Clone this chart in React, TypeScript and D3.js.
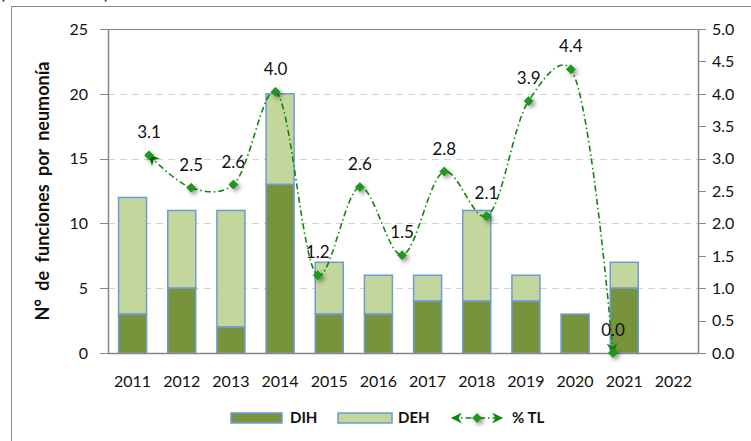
import React from "react";
import * as d3 from "d3";

const years = ["2011", "2012", "2013", "2014", "2015", "2016", "2017", "2018", "2019", "2020", "2021", "2022"];
const dih = [3, 5, 2, 13, 3, 3, 4, 4, 4, 3, 5, 0];
const deh = [9, 6, 9, 7, 4, 3, 2, 7, 2, 0, 2, 0];
const pctTL = [3.05, 2.55, 2.6, 4.03, 1.2, 2.56, 1.51, 2.8, 2.11, 3.89, 4.38, 0.0];
const pctLabels = ["3.1", "2.5", "2.6", "4.0", "1.2", "2.6", "1.5", "2.8", "2.1", "3.9", "4.4", "0.0"];
const leftTicks = [0, 5, 10, 15, 20, 25];
const rightTicks = [0, 0.5, 1, 1.5, 2, 2.5, 3, 3.5, 4, 4.5, 5];
const gridTicks = [5, 10, 15, 20];

const W = 751;
const H = 441;
const L = 108;
const R = 698;
const T = 29;
const B = 353;
const FONT = "Lato, 'Open Sans', sans-serif";
const AXIS = "#868686";
const DARK = "#77933C";
const LIGHT = "#C3D69B";
const EDGE = "#6E9BD6";
const LINE = "#0A8A0A";

export default function App() {
  const x = d3.scaleBand<string>().domain(years).range([L, R]).paddingInner(0.43).paddingOuter(0.215);
  const xl = d3.scalePoint<string>().domain(years).range([L + 41, R - 85]);
  const yL = d3.scaleLinear().domain([0, 25]).range([B, T]);
  const yR = d3.scaleLinear().domain([0, 5]).range([B, T]);

  const line = d3
    .line<number>()
    .x((_, i) => xl(years[i]) as number)
    .y((d) => yR(d))
    .curve(d3.curveCatmullRom.alpha(0.3));
  const linePath = line(pctTL) || "";

  const diamond = (cx: number, cy: number, r: number) =>
    `M${cx},${cy - r}L${cx + r},${cy}L${cx},${cy + r}L${cx - r},${cy}Z`;

  return (
    <svg
      width={W}
      height={H}
      style={{ position: "absolute", left: 0, top: 0, background: "#fff" }}
      fontFamily={FONT}
    >
      <defs>
        <filter id="sh" x="-100%" y="-100%" width="300%" height="300%">
          <feDropShadow dx="2.5" dy="2.5" stdDeviation="2" floodColor="#000" floodOpacity="0.45" />
        </filter>
        <marker
          id="arr"
          viewBox="0 0 10 10"
          refX="9"
          refY="5"
          markerWidth="11"
          markerHeight="11"
          markerUnits="userSpaceOnUse"
          orient="auto-start-reverse"
        >
          <path d="M0,0L10,5L0,10L3,5Z" fill={LINE} />
        </marker>
      </defs>
      <rect width={W} height={H} fill="#fff" />
      {/* cut-off title */}
      <text x={0} y={-1} fontSize={18} fontWeight="bold" fill="#1F4E99" fontFamily={FONT}>
        (2011 - 2021).
      </text>
      {/* chart border */}
      <rect x={11.5} y={6.5} width={W + 20} height={H + 20} fill="none" stroke="#8C8C8C" strokeWidth={1} />

      {/* grid */}
      {gridTicks.map((t) => (
        <line
          key={t}
          x1={L}
          x2={R}
          y1={Math.round(yL(t)) + 0.5}
          y2={Math.round(yL(t)) + 0.5}
          stroke="#D4D4D4"
          strokeWidth={1}
          strokeDasharray="7,5"
        />
      ))}
      <line x1={L} x2={R} y1={T + 0.5} y2={T + 0.5} stroke={AXIS} strokeWidth={1} />

      {/* bars */}
      {years.map((yr, i) => {
        const bx = x(yr) as number;
        const bw = x.bandwidth();
        const total = dih[i] + deh[i];
        if (total === 0) return null;
        return (
          <g key={yr}>
            {deh[i] > 0 && (
              <rect
                x={bx}
                y={yL(total)}
                width={bw}
                height={yL(dih[i]) - yL(total)}
                fill={LIGHT}
                stroke={EDGE}
                strokeWidth={1.5}
              />
            )}
            <rect
              x={bx}
              y={yL(dih[i])}
              width={bw}
              height={yL(0) - yL(dih[i])}
              fill={DARK}
              stroke={EDGE}
              strokeWidth={1.5}
            />
          </g>
        );
      })}

      {/* axes */}
      <line x1={L + 0.5} x2={L + 0.5} y1={T} y2={B} stroke={AXIS} strokeWidth={1.5} />
      <line x1={R + 0.5} x2={R + 0.5} y1={T} y2={B} stroke={AXIS} strokeWidth={1.5} />
      <line x1={L} x2={R} y1={B + 0.5} y2={B + 0.5} stroke={AXIS} strokeWidth={1.5} />
      {leftTicks.map((t) => (
        <g key={t}>
          <line x1={L - 8} x2={L} y1={Math.round(yL(t)) + 0.5} y2={Math.round(yL(t)) + 0.5} stroke={AXIS} />
          <text x={88} y={yL(t)} dy="0.36em" textAnchor="end" fontSize={16} fill="#111">
            {t}
          </text>
        </g>
      ))}
      {rightTicks.map((t) => (
        <g key={t}>
          <line x1={R} x2={R + 8} y1={Math.round(yR(t)) + 0.5} y2={Math.round(yR(t)) + 0.5} stroke={AXIS} />
          <text x={712} y={yR(t)} dy="0.36em" textAnchor="start" fontSize={16} fill="#111">
            {d3.format(".1f")(t)}
          </text>
        </g>
      ))}
      {years.map((yr) => (
        <text
          key={yr}
          x={(x(yr) as number) + x.bandwidth() / 2}
          y={381}
          dy="0.36em"
          textAnchor="middle"
          fontSize={16}
          fill="#111"
        >
          {yr}
        </text>
      ))}
      <text
        transform={`translate(43,${(T + B) / 2}) rotate(-90)`}
        textAnchor="middle"
        dy="0.36em"
        fontSize={18}
        fontWeight="bold"
        fill="#111"
        wordSpacing={4}
      >
        N° de funciones por neumonía
      </text>

      {/* line series */}
      <path
        d={linePath}
        fill="none"
        stroke={LINE}
        strokeWidth={1.6}
        strokeDasharray="6,3,1.5,3"
        markerStart="url(#arr)"
        markerEnd="url(#arr)"
      />
      {pctTL.map((v, i) => (
        <path
          key={i}
          d={diamond(xl(years[i]) as number, yR(v), 4.5)}
          fill="#1E9A1E"
          stroke="#0A7A0A"
          strokeWidth={0.6}
          filter="url(#sh)"
        />
      ))}
      {pctTL.map((v, i) => (
        <text
          key={i}
          x={xl(years[i]) as number}
          y={yR(v) - 23}
          dy="0.36em"
          textAnchor="middle"
          fontSize={17}
          fill="#111"
        >
          {pctLabels[i]}
        </text>
      ))}

      {/* legend */}
      <rect x={231} y={413} width={51} height={10} fill={DARK} stroke={EDGE} strokeWidth={1.5} />
      <text x={290} y={418} dy="0.36em" fontSize={15} fontWeight="bold" fill="#111">
        DIH
      </text>
      <rect x={338} y={413} width={54} height={10} fill={LIGHT} stroke={EDGE} strokeWidth={1.5} />
      <text x={398} y={418} dy="0.36em" fontSize={15} fontWeight="bold" fill="#111">
        DEH
      </text>
      <path
        d={`M${452},418L${502},418`}
        fill="none"
        stroke={LINE}
        strokeWidth={1.6}
        strokeDasharray="6,3,1.5,3"
        markerStart="url(#arr)"
        markerEnd="url(#arr)"
      />
      <path d={diamond(477, 418, 4.5)} fill="#1E9A1E" stroke="#0A7A0A" strokeWidth={0.6} filter="url(#sh)" />
      <text x={512} y={418} dy="0.36em" fontSize={15} fontWeight="bold" fill="#111">
        % TL
      </text>
    </svg>
  );
}
